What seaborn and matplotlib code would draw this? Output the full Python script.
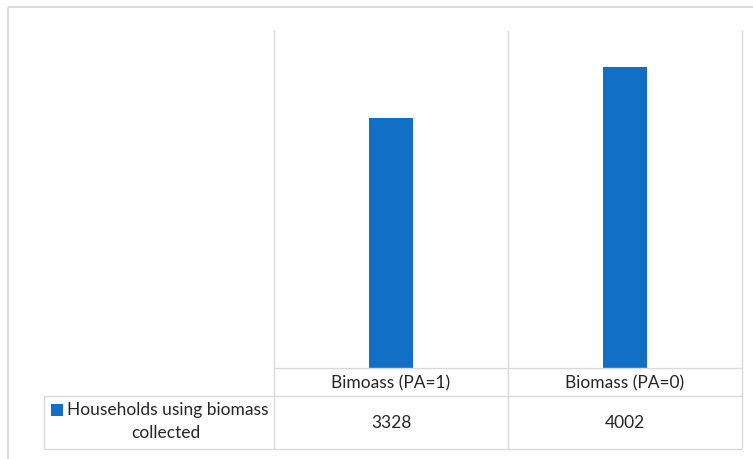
import matplotlib
matplotlib.use("Agg")
import matplotlib.pyplot as plt
import matplotlib.transforms as mtransforms
from matplotlib.lines import Line2D
from matplotlib.patches import Rectangle
import pandas as pd
import seaborn as sns

# Data
categories = ["Bimoass (PA=1)", "Biomass (PA=0)"]
values = [3328, 4002]
series_name = "Households using biomass collected"
series_lines = ["Households using biomass", "collected"]

W, H = 753, 459
BAR_COLOR = "#1170c6"
GRID = "#d9d9d9"
TEXT = "#262626"
FS = 12.5

sns.set_theme(style="white")
plt.rcParams["font.family"] = ["Lato", "DejaVu Sans"]

fig = plt.figure(figsize=(W / 100, H / 100), dpi=100)
fig.patch.set_facecolor("white")


def fx(x):
    return x / W


def fy(y):
    return 1 - y / H


# Plot area
left, right, top, bottom = 274, 742, 30, 368
ax = fig.add_axes([fx(left), fy(bottom), fx(right) - fx(left), fy(top) - fy(bottom)])

df = pd.DataFrame({"category": categories, "value": values})
sns.barplot(data=df, x="category", y="value", color=BAR_COLOR, width=0.184,
            saturation=1, ax=ax, linewidth=0)
ax.set_ylim(0, 4500)
ax.set_xlim(-0.5, len(categories) - 0.5)
ax.set_axis_off()


def hline(y, x0, x1, lw=1.0):
    fig.add_artist(Line2D([fx(x0), fx(x1)], [fy(y), fy(y)], color=GRID, lw=lw,
                          transform=fig.transFigure, solid_capstyle="butt"))


def vline(x, y0, y1, lw=1.0):
    fig.add_artist(Line2D([fx(x), fx(x)], [fy(y0), fy(y1)], color=GRID, lw=lw,
                          transform=fig.transFigure, solid_capstyle="butt"))


# Outer chart frame
hline(7, 8, W + 2, lw=1.3)
vline(8, 7, H + 2, lw=1.3)

# Category separators (gridlines + table columns)
row1_top, row2_top, row2_bot = 368, 396, 449
for x in (274, 508, 742):
    vline(x, top, row2_bot)

# Data table rows
hline(row1_top, 274, 742)
hline(row2_top, 44, 742)
hline(row2_bot, 44, 742)
vline(44, row2_top, row2_bot)

# Table text: x in data coordinates, y in figure coordinates
blend = mtransforms.blended_transform_factory(ax.transData, fig.transFigure)
for i, (cat, val) in enumerate(zip(categories, values)):
    ax.text(i, fy(383), cat, transform=blend, ha="center", va="center",
            fontsize=FS, color=TEXT)
    ax.text(i, fy(423), f"{val}", transform=blend, ha="center", va="center",
            fontsize=FS, color=TEXT)

# Legend key cell
fig.add_artist(Rectangle((fx(51), fy(416)), fx(12), 12 / H, facecolor=BAR_COLOR,
                         edgecolor="none", transform=fig.transFigure))
fig.text(fx(167.5), fy(410), series_lines[0], ha="center", va="center",
         fontsize=FS, color=TEXT)
fig.text(fx(166), fy(433), series_lines[1], ha="center", va="center",
         fontsize=FS, color=TEXT)

fig.savefig("out.png", dpi=100, facecolor="white")
